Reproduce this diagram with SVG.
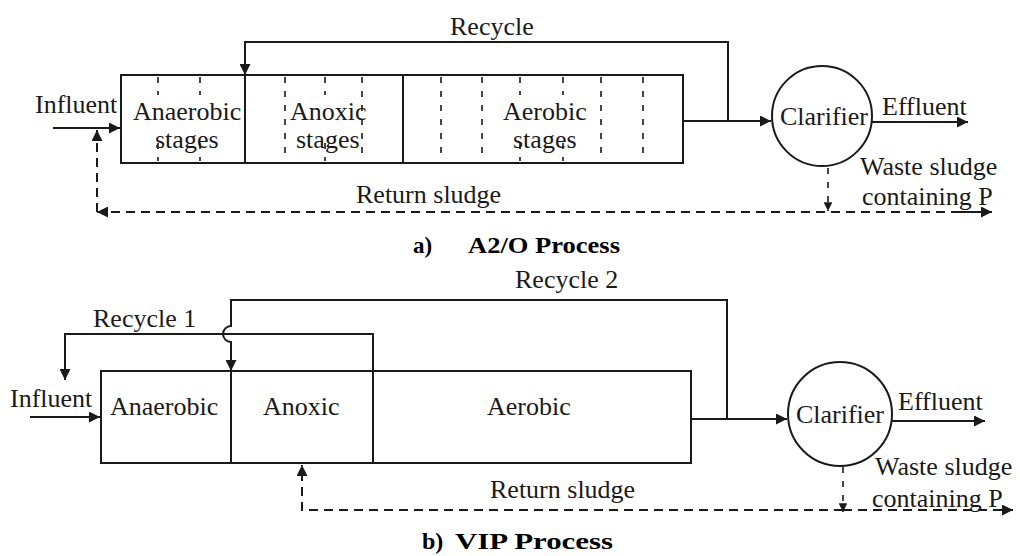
<svg xmlns="http://www.w3.org/2000/svg" width="1020" height="556" viewBox="0 0 1020 556">
<defs>
<style>
.t{font-family:"Liberation Serif","Times New Roman",serif;font-size:26px;fill:#1a1a1a}
.b{font-family:"Liberation Serif","Times New Roman",serif;font-weight:bold;fill:#000}
.ln{fill:none;stroke:#1a1a1a;stroke-width:2}
.box{fill:#fff;stroke:#1a1a1a;stroke-width:2}
.ds{fill:none;stroke:#1a1a1a;stroke-width:2;stroke-dasharray:9 6}
.dv{fill:none;stroke:#1a1a1a;stroke-width:1.6;stroke-dasharray:6 8}
</style>
<marker id="ah" viewBox="0 0 10 10" refX="10" refY="5" markerWidth="5.5" markerHeight="5.5" orient="auto" markerUnits="strokeWidth">
<path d="M0,0 L10,5 L0,10 z" fill="#1a1a1a"/>
</marker>
</defs>
<rect width="1020" height="556" fill="#fff"/>

<!-- ===== a) A2/O ===== -->
<g id="a-tank">
<rect class="box" x="121" y="75" width="562" height="88"/>
<line class="ln" x1="245" y1="75" x2="245" y2="163"/>
<line class="ln" x1="403" y1="75" x2="403" y2="163"/>
<path class="dv" d="M158,77 V95 M158,143 V161 M200,77 V95 M200,143 V161 M325,77 V95 M325,143 V161 M520,77 V95 M520,143 V161 M563,77 V95 M563,143 V161"/>
<path class="dv" d="M285,77 V161 M362,77 V161 M441,77 V161 M482,77 V161 M601,77 V161 M643,77 V161"/>
<text class="t" x="133" y="120">Anaerobic</text>
<text class="t" x="155" y="148">stages</text>
<text class="t" x="290" y="120">Anoxic</text>
<text class="t" x="296" y="148">stages</text>
<text class="t" x="503" y="120">Aerobic</text>
<text class="t" x="513" y="148">stages</text>
</g>
<g id="a-clarifier">
<circle class="box" cx="822" cy="116" r="50"/>
<text class="t" x="824" y="125" text-anchor="middle">Clarifier</text>
</g>
<g id="a-connectors">
<line class="ln" x1="53" y1="128" x2="120" y2="128" marker-end="url(#ah)"/>
<line class="ln" x1="683" y1="121" x2="771" y2="121" marker-end="url(#ah)"/>
<polyline class="ln" points="728,121 728,42 245,42 245,75" marker-end="url(#ah)"/>
<line class="ln" x1="872" y1="122" x2="968" y2="122" marker-end="url(#ah)"/>
<line class="dv" x1="828" y1="168" x2="828" y2="211" marker-end="url(#ah)"/>
<polyline class="ds" points="990,212 97,212" marker-end="url(#ah)"/>
<line class="ds" x1="97" y1="212" x2="97" y2="130" marker-end="url(#ah)"/>
<line class="ds" x1="960" y1="212" x2="992" y2="212" marker-end="url(#ah)"/>
</g>
<g id="a-labels">
<text class="t" x="35" y="113">Influent</text>
<text class="t" x="450" y="35">Recycle</text>
<text class="t" x="882" y="115">Effluent</text>
<text class="t" x="860" y="175">Waste sludge</text>
<text class="t" x="862" y="205">containing P</text>
<text class="t" x="356" y="203">Return sludge</text>
<text class="b" x="413" y="253" font-size="23">a)</text>
<text class="b" x="468" y="253" font-size="23" textLength="152" lengthAdjust="spacingAndGlyphs">A2/O Process</text>
</g>

<!-- ===== b) VIP ===== -->
<g id="b-tank">
<rect class="box" x="101" y="371" width="590" height="92"/>
<line class="ln" x1="231" y1="371" x2="231" y2="463"/>
<line class="ln" x1="373" y1="371" x2="373" y2="463"/>
<text class="t" x="110" y="415">Anaerobic</text>
<text class="t" x="263" y="415">Anoxic</text>
<text class="t" x="487" y="415">Aerobic</text>
</g>
<g id="b-clarifier">
<circle class="box" cx="840" cy="414" r="52"/>
<text class="t" x="840" y="423" text-anchor="middle">Clarifier</text>
</g>
<g id="b-connectors">
<line class="ln" x1="30" y1="417" x2="100" y2="417" marker-end="url(#ah)"/>
<line class="ln" x1="691" y1="419" x2="787" y2="419" marker-end="url(#ah)"/>
<path class="ln" d="M727,419 V300 H231 V326 A8,8 0 0 0 231,342 V371" marker-end="url(#ah)"/>
<polyline class="ln" points="373,371 373,334 65,334 65,380" marker-end="url(#ah)"/>
<line class="ln" x1="892" y1="421" x2="985" y2="421" marker-end="url(#ah)"/>
<line class="dv" x1="843" y1="467" x2="843" y2="512" marker-end="url(#ah)"/>
<polyline class="ds" points="843,510 302,510 302,465" marker-end="url(#ah)"/>
<line class="ds" x1="843" y1="510" x2="1013" y2="510" marker-end="url(#ah)"/>
</g>
<g id="b-labels">
<text class="t" x="10" y="407">Influent</text>
<text class="t" x="93" y="327">Recycle 1</text>
<text class="t" x="515" y="288">Recycle 2</text>
<text class="t" x="898" y="410">Effluent</text>
<text class="t" x="875" y="475">Waste sludge</text>
<text class="t" x="872" y="507">containing P</text>
<text class="t" x="490" y="498">Return sludge</text>
<text class="b" x="422" y="549" font-size="24">b)</text>
<text class="b" x="455" y="549" font-size="24" textLength="158" lengthAdjust="spacingAndGlyphs">VIP Process</text>
</g>
</svg>
